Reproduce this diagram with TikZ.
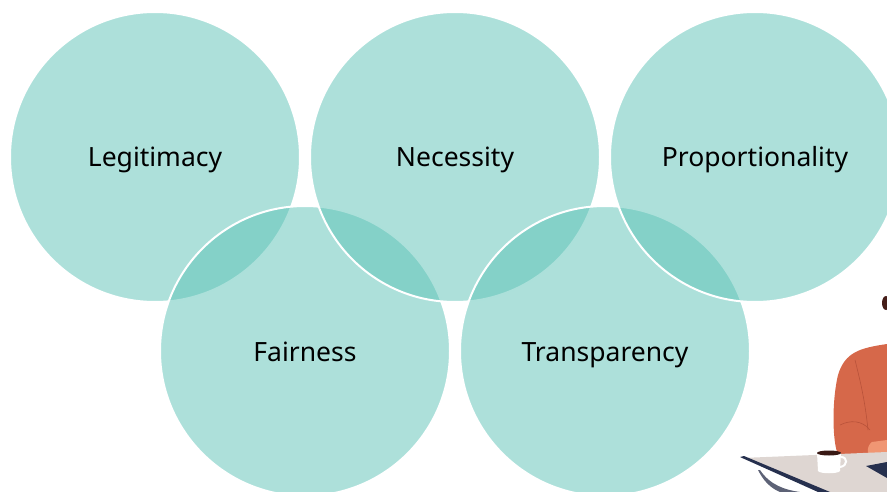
\documentclass[tikz,border=0pt]{standalone}
\usepackage{fontspec}
\setmainfont{Noto Sans}
\definecolor{teal}{RGB}{91,194,182}
\definecolor{jacket}{RGB}{214,104,74}
\definecolor{jacketdark}{RGB}{184,82,58}
\definecolor{skin}{RGB}{240,150,115}
\definecolor{desk}{RGB}{222,214,210}
\definecolor{deskedge}{RGB}{38,48,78}
\definecolor{hair}{RGB}{70,30,25}
\begin{document}
\begin{tikzpicture}[x=1pt,y=-1pt,
  bubble/.style={circle,minimum size=290pt,inner sep=0pt,fill=teal,fill opacity=0.5,
    draw=white,draw opacity=1,line width=2pt,text opacity=1,
    text height=22.5pt,text depth=2.5pt,
    font=\fontsize{26.5}{30}\selectfont,text=black}]
\useasboundingbox (0,0) rectangle (887,492);
\begin{scope}
\clip (0,0) rectangle (887,492);
% circles in stacking order
\node[bubble] (leg)  at (155,157) {Legitimacy};
\node[bubble] (fair) at (305,351) {Fairness};
\node[bubble] (nec)  at (455,157) {Necessity};
\node[bubble] (tra)  at (605,351) {Transparency};
\node[bubble] (pro)  at (755,157) {Proportionality};

% person at the desk
\fill[hair] (886,303) ellipse (4 and 7);
\fill[jacket] (887,344) .. controls (860,348) and (845,352) .. (838,375)
  .. controls (832,400) and (832,440) .. (838,455)
  -- (887,462) -- cycle;
\draw[jacketdark,line width=0.6pt] (855,360) .. controls (860,380) and (865,400) .. (868,430);
\draw[jacketdark,line width=0.6pt] (840,425) .. controls (850,420) and (862,420) .. (870,430);
\fill[skin] (872,442) .. controls (866,446) and (866,458) .. (874,460) -- (887,460) -- (887,440) -- cycle;
\fill[desk] (742,458) -- (887,452) -- (887,492) -- (826,492) -- cycle;
\fill[deskedge] (740,457) -- (744,456) -- (830,492) -- (818,492) -- cycle;
\fill[deskedge!70!desk] (760,470) .. controls (770,485) and (785,490) .. (800,492) -- (780,492) .. controls (770,488) and (763,480) .. (758,470) -- cycle;
\fill[deskedge] (866,466) -- (887,462) -- (887,478) -- cycle;
\fill[white] (817,453) -- (841,453) -- (840,471) .. controls (838,474) and (820,474) .. (818,471) -- cycle;
\draw[white,line width=2pt] (841,457) .. controls (848,457) and (848,466) .. (840,467);
\fill[hair!80!black] (829,453) ellipse (12 and 2.5);
\end{scope}
\end{tikzpicture}
\end{document}
